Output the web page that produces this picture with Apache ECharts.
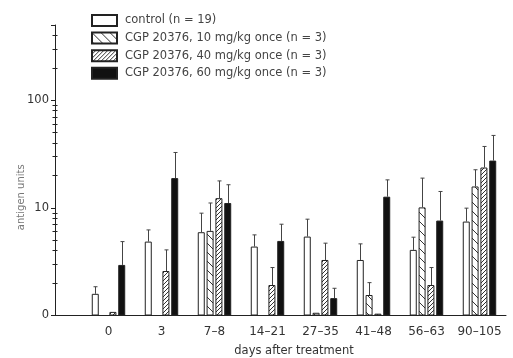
<!DOCTYPE html>
<html>
<head>
<meta charset="utf-8">
<script src="https://cdn.jsdelivr.net/npm/echarts@6/dist/echarts.min.js"></script>
<style>
  html, body { margin: 0; padding: 0; background: #fff; }
  #chart { width: 513px; height: 358px; }
</style>
</head>
<body>
<div id="chart"></div>
<script>
const categories = ["0", "3", "7–8", "14–21", "27–35", "41–48", "56–63", "90–105"];
const seriesNames = [
  "control (n = 19)",
  "CGP 20376, 10 mg/kg once (n = 3)",
  "CGP 20376, 40 mg/kg once (n = 3)",
  "CGP 20376, 60 mg/kg once (n = 3)",
];
// bar heights and upper end of error bar, antigen units (axis bottom = 1, labelled "0")
const control = [1.59, 4.86, 5.94, 4.37, 5.41, 3.28, 4.07, 7.46];
const controlErr = [1.85, 6.24, 8.93, 5.61, 7.85, 4.63, 5.34, 9.94];
const dose10 = [null, null, 6.11, null, 1.06, 1.55, 10.1, 15.8];
const dose10Err = [null, null, 11.1, null, null, 2.02, 18.9, 22.6];
const dose40 = [1.08, 2.59, 12.3, 1.92, 3.28, 1.04, 1.92, 23.7];
const dose40Err = [null, 4.07, 17.8, 2.79, 4.7, null, 2.79, 37.2];
const dose60 = [2.95, 18.9, 11.1, 4.93, 1.45, 12.7, 7.62, 27.5];
const dose60Err = [4.86, 32.7, 16.4, 7.05, 1.79, 18.2, 14.2, 47.1];

const yLabels = [1, 10, 100];
const yMajorTicks = [1, 10, 100, 500];
const yMinorTicks = [2, 3, 4, 5, 6, 7, 8, 9, 20, 30, 40, 50, 60, 70, 80, 90, 200, 300, 400];

const FONT = "DejaVu Sans";
const INK = "#222";
const BAR_W = 7;
const STEP = 8.8; // distance between bar centres in a group

function hatch(size, back) {
  const c = document.createElement("canvas");
  c.width = c.height = size;
  const g = c.getContext("2d");
  g.fillStyle = "#fff";
  g.fillRect(0, 0, size, size);
  g.strokeStyle = "#333";
  g.lineWidth = 1;
  g.beginPath();
  if (back) {
    g.moveTo(0, 0); g.lineTo(size, size);
    g.moveTo(-1, size - 1); g.lineTo(1, size + 1);
    g.moveTo(size - 1, -1); g.lineTo(size + 1, 1);
  } else {
    g.moveTo(0, size); g.lineTo(size, 0);
    g.moveTo(-1, 1); g.lineTo(1, -1);
    g.moveTo(size - 1, size + 1); g.lineTo(size + 1, size - 1);
  }
  g.stroke();
  return c;
}

const fills = [
  "#fff",
  { image: hatch(9, true), repeat: "repeat" },
  { image: hatch(4, false), repeat: "repeat" },
  "#111",
];
const values = [control, dose10, dose40, dose60];
const errs = [controlErr, dose10Err, dose40Err, dose60Err];

function errRender(offset) {
  return function (params, api) {
    const a = api.coord([api.value(0), api.value(1)]);
    const b = api.coord([api.value(0), api.value(2)]);
    const x = Math.round(a[0] + offset) + 0.5;
    const st = { stroke: "#444", lineWidth: 1 };
    return {
      type: "group",
      children: [
        { type: "line", shape: { x1: x, y1: a[1], x2: x, y2: b[1] }, style: st },
        { type: "line", shape: { x1: x - 2, y1: b[1], x2: x + 2, y2: b[1] }, style: st },
      ],
    };
  };
}

const barSeries = seriesNames.map((name, i) => ({
  name,
  type: "bar",
  data: values[i],
  barWidth: BAR_W,
  barGap: "26%",
  itemStyle: { color: fills[i], borderColor: INK, borderWidth: 1 },
  silent: true,
}));

const errSeries = seriesNames.map((name, i) => ({
  name: "err" + i,
  type: "custom",
  renderItem: errRender((i - 1.5) * STEP),
  data: categories
    .map((c, k) => [k, values[i][k], errs[i][k]])
    .filter((d) => d[2] != null),
  z: 3,
  silent: true,
}));

const logAxis = {
  type: "log",
  min: 1,
  max: 500,
  position: "left",
  offset: 27,
  splitLine: { show: false },
};

const chart = echarts.init(document.getElementById("chart"), null, { renderer: "canvas" });
chart.setOption({
  animation: false,
  backgroundColor: "#fff",
  textStyle: { fontFamily: FONT },
  grid: { left: 82, right: 7, top: 25, bottom: 42.5, outerBoundsMode: "none" },
  legend: {
    data: seriesNames,
    orient: "vertical",
    left: 86,
    top: 9,
    itemWidth: 25,
    itemHeight: 11,
    itemGap: 4.6,
    icon: "rect",
    selectedMode: false,
    textStyle: { fontFamily: FONT, fontSize: 11.5, color: "#444", padding: [0, 0, 0, 3] },
  },
  xAxis: {
    type: "category",
    data: categories,
    boundaryGap: true,
    axisLine: { lineStyle: { color: INK, width: 1 } },
    axisTick: { show: false },
    axisLabel: { color: "#333", fontSize: 12, fontFamily: FONT, margin: 10, interval: 0 },
    name: "days after treatment",
    nameLocation: "middle",
    nameGap: 30,
    nameTextStyle: { color: "#333", fontSize: 11.5, fontFamily: FONT },
  },
  yAxis: [
    Object.assign({}, logAxis, {
      axisLine: { show: true, lineStyle: { color: INK, width: 1 } },
      axisTick: { show: true, length: 4, customValues: yMajorTicks, lineStyle: { color: INK } },
      axisLabel: {
        customValues: yLabels,
        formatter: (v) => (Math.round(v) === 1 ? "0" : String(Math.round(v))),
        color: "#333",
        fontSize: 11.5,
        fontFamily: FONT,
        margin: 6,
      },
      name: "antigen units",
      nameLocation: "middle",
      nameGap: 29,
      nameMoveOverlap: false,
      nameTextStyle: { color: "#777", fontSize: 10, fontFamily: FONT, padding: [0, 54, 0, 0] },
    }),
    Object.assign({}, logAxis, {
      axisLine: { show: false },
      axisLabel: { show: false },
      axisTick: { show: true, length: 2.5, customValues: yMinorTicks, lineStyle: { color: INK } },
    }),
    Object.assign({}, logAxis, {
      axisLine: { show: false },
      axisLabel: { show: false },
      axisTick: { show: true, inside: true, length: 2.5, customValues: yMinorTicks, lineStyle: { color: INK } },
    }),
  ],
  graphic: [
    {
      type: "line",
      shape: { x1: 55, y1: 315.5, x2: 82, y2: 315.5 },
      style: { stroke: INK, lineWidth: 1 },
      silent: true,
    },
  ],
  series: barSeries.concat(errSeries),
});
</script>
</body>
</html>
